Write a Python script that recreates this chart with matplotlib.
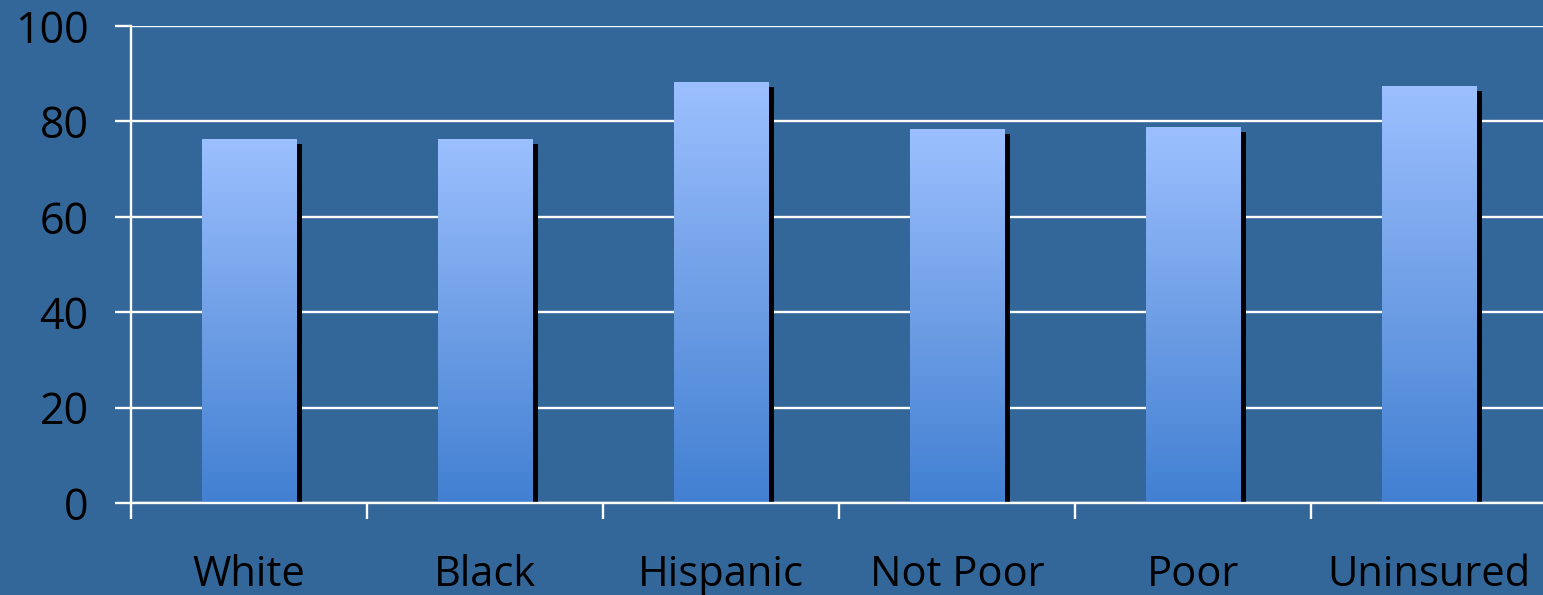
import numpy as np
import matplotlib
matplotlib.use('Agg')
import matplotlib.pyplot as plt
import matplotlib.patheffects as pe
from matplotlib.colors import LinearSegmentedColormap

# Data
categories = ['White', 'Black', 'Hispanic', 'Not Poor', 'Poor', 'Uninsured']
values = [76.4, 76.4, 88.3, 78.4, 78.8, 87.4]
yticks = [0, 20, 40, 60, 80, 100]

bg = '#336699'
plt.rcParams['font.family'] = ['Open Sans', 'DejaVu Sans']

fig = plt.figure(figsize=(15.43, 5.95), dpi=100, facecolor=bg)
ax = fig.add_axes([131 / 1543, 92 / 595, 1416 / 1543, 477 / 595], facecolor=bg)

x = np.arange(len(categories))
width = 0.40

# gradient light (top) to darker blue (bottom)
cmap = LinearSegmentedColormap.from_list('grad', ['#4280d2', '#6f9fe6', '#9cc0ff'])
grad = np.linspace(0, 1, 256).reshape(-1, 1)

bars = ax.bar(x, values, width=width, color='#7aa8ee', zorder=3,
              path_effects=[pe.SimplePatchShadow(offset=(4.4, -3.8), shadow_rgbFace='black', alpha=1.0),
                            pe.Normal()])
for b, v in zip(bars, values):
    x0 = b.get_x()
    im = ax.imshow(grad, cmap=cmap, origin='lower', aspect='auto',
                   extent=[x0, x0 + width, 0, v], zorder=4)
    im.set_clip_path(b)

ax.set_xlim(-0.5, len(categories) - 0.5)
ax.set_ylim(0, 100)
ax.set_yticks(yticks)
ax.set_yticklabels([str(t) for t in yticks], fontsize=31)
ax.yaxis.grid(True, color='white', linewidth=1.7, zorder=1)
ax.set_axisbelow(True)

ax.set_xticks(x)
ax.set_xticklabels(categories, fontsize=30)
ax.set_xticks(np.arange(len(categories) + 1) - 0.5, minor=True)
ax.tick_params(axis='x', which='major', length=0, pad=37)
ax.tick_params(axis='x', which='minor', length=11.5, width=1.7, color='white', direction='out')
ax.tick_params(axis='y', length=11.5, width=1.7, color='white', pad=19)

for s in ['top', 'right']:
    ax.spines[s].set_visible(False)
for s in ['left', 'bottom']:
    ax.spines[s].set_color('white')
    ax.spines[s].set_linewidth(1.7)
    ax.spines[s].set_zorder(5)

plt.savefig('out.png', dpi=100, facecolor=bg)
